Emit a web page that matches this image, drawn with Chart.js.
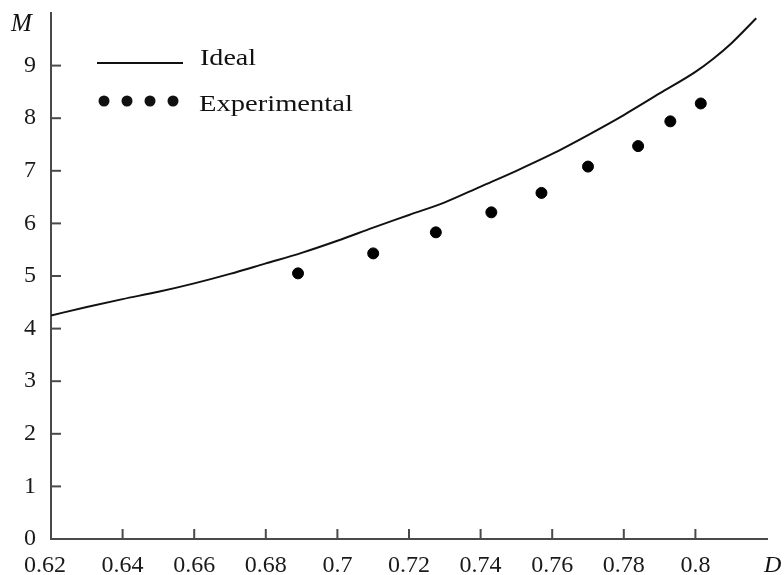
<!DOCTYPE html>
<html lang="en">
<head>
    <meta charset="UTF-8">
    <script src="https://cdn.jsdelivr.net/npm/chart.js"></script>
    <style>
        body { margin: 0; background: #fff; }
        #wrap { width: 784px; height: 575px; }
    </style>
    <title>M vs D</title>
</head>
<body>
    <div id="wrap"><canvas id="myChart"></canvas></div>
    <script>
        // ideal curve
        let ideal_D = [0.62, 0.63, 0.64, 0.65, 0.66, 0.67, 0.68, 0.69, 0.70, 0.71, 0.72,
                       0.73, 0.74, 0.75, 0.76, 0.77, 0.78, 0.79, 0.80, 0.805, 0.81, 0.817];
        let ideal_M = [4.25, 4.41, 4.56, 4.70, 4.86, 5.04, 5.24, 5.44, 5.67, 5.92, 6.16,
                       6.40, 6.70, 7.00, 7.32, 7.68, 8.06, 8.47, 8.88, 9.13, 9.42, 9.90];
        // experimental points
        let exp_D = [0.689, 0.710, 0.7275, 0.743, 0.757, 0.770, 0.784, 0.793, 0.8015];
        let exp_M = [5.05, 5.43, 5.83, 6.21, 6.58, 7.08, 7.47, 7.94, 8.28];
        // tick labels
        let x_ticks = [0.62, 0.64, 0.66, 0.68, 0.70, 0.72, 0.74, 0.76, 0.78, 0.80];
        let y_ticks = [0, 1, 2, 3, 4, 5, 6, 7, 8, 9];

        const serif = '"Liberation Serif", "Times New Roman", serif';
        const axisColor = '#4a4a4a';

        // inward ticks, axis letters and the hand drawn legend
        const decor = {
            id: 'decor',
            afterDraw(chart) {
                const ctx = chart.ctx;
                const xs = chart.scales.x, ys = chart.scales.y, a = chart.chartArea;
                ctx.save();
                ctx.strokeStyle = axisColor;
                ctx.lineWidth = 2;
                x_ticks.forEach(v => {
                    const px = xs.getPixelForValue(v);
                    ctx.beginPath(); ctx.moveTo(px, a.bottom); ctx.lineTo(px, a.bottom - 10); ctx.stroke();
                });
                y_ticks.forEach(v => {
                    const py = ys.getPixelForValue(v);
                    ctx.beginPath(); ctx.moveTo(a.left, py); ctx.lineTo(a.left + 10, py); ctx.stroke();
                });

                ctx.fillStyle = '#111';
                ctx.textAlign = 'left';
                ctx.textBaseline = 'alphabetic';
                ctx.font = 'italic 25px ' + serif;
                ctx.fillText('M', 11, 31);
                ctx.font = 'italic 24px ' + serif;
                ctx.fillText('D', 764, 572);

                // legend
                ctx.strokeStyle = '#111';
                ctx.lineWidth = 2;
                ctx.beginPath(); ctx.moveTo(97, 63); ctx.lineTo(183, 63); ctx.stroke();
                [104, 127, 150, 173].forEach(cx => {
                    ctx.beginPath(); ctx.arc(cx, 101, 5.5, 0, Math.PI * 2); ctx.fill();
                });
                ctx.font = '24px ' + serif;
                ctx.save(); ctx.translate(200, 65); ctx.scale(1.17, 1); ctx.fillText('Ideal', 0, 0); ctx.restore();
                ctx.save(); ctx.translate(199, 111); ctx.scale(1.19, 1); ctx.fillText('Experimental', 0, 0); ctx.restore();
                ctx.restore();
            }
        };

        let ctx = document.getElementById('myChart');
        let configs = {
            type: 'scatter',
            data: {
                datasets: [{
                    label: 'Ideal',
                    data: ideal_D.map((d, i) => ({x: d, y: ideal_M[i]})),
                    showLine: true,
                    borderColor: '#111',
                    borderWidth: 2,
                    pointRadius: 0,
                    cubicInterpolationMode: 'monotone'
                }, {
                    label: 'Experimental',
                    data: exp_D.map((d, i) => ({x: d, y: exp_M[i]})),
                    backgroundColor: '#000',
                    borderColor: '#000',
                    pointRadius: 5.5,
                    pointHoverRadius: 5.5
                }]
            },
            options: {
                animation: false,
                responsive: true,
                maintainAspectRatio: false,
                layout: { padding: { top: 13, right: 17, left: 0, bottom: 0 } },
                plugins: { legend: { display: false }, tooltip: { enabled: false } },
                scales: {
                    x: {
                        type: 'linear',
                        min: 0.62, max: 0.82,
                        grid: { display: false, drawTicks: false },
                        border: { display: true, color: axisColor, width: 2 },
                        afterBuildTicks: s => { s.ticks = x_ticks.map(v => ({value: v})); },
                        afterFit: s => { s.height = 36; s.paddingLeft = 0; s.paddingRight = 0; },
                        ticks: {
                            padding: 12,
                            maxRotation: 0,
                            autoSkip: false,
                            color: '#1a1a1a',
                            font: { family: serif, size: 24 },
                            // first label sits a bit left of its tick, clear of the y axis
                            callback: (v, i) => String(Number(v.toFixed(2))) + (i === 0 ? '  ' : '')
                        }
                    },
                    y: {
                        type: 'linear',
                        min: 0, max: 10,
                        grid: { display: false, drawTicks: false },
                        border: { display: true, color: axisColor, width: 2 },
                        afterBuildTicks: s => { s.ticks = y_ticks.map(v => ({value: v})); },
                        afterFit: s => { s.width = 51; s.paddingTop = 0; s.paddingBottom = 0; },
                        ticks: {
                            padding: 15,
                            color: '#1a1a1a',
                            font: { family: serif, size: 24 }
                        }
                    }
                }
            },
            plugins: [decor]
        };
        let myChart = new Chart(ctx, configs);
    </script>
</body>
</html>
